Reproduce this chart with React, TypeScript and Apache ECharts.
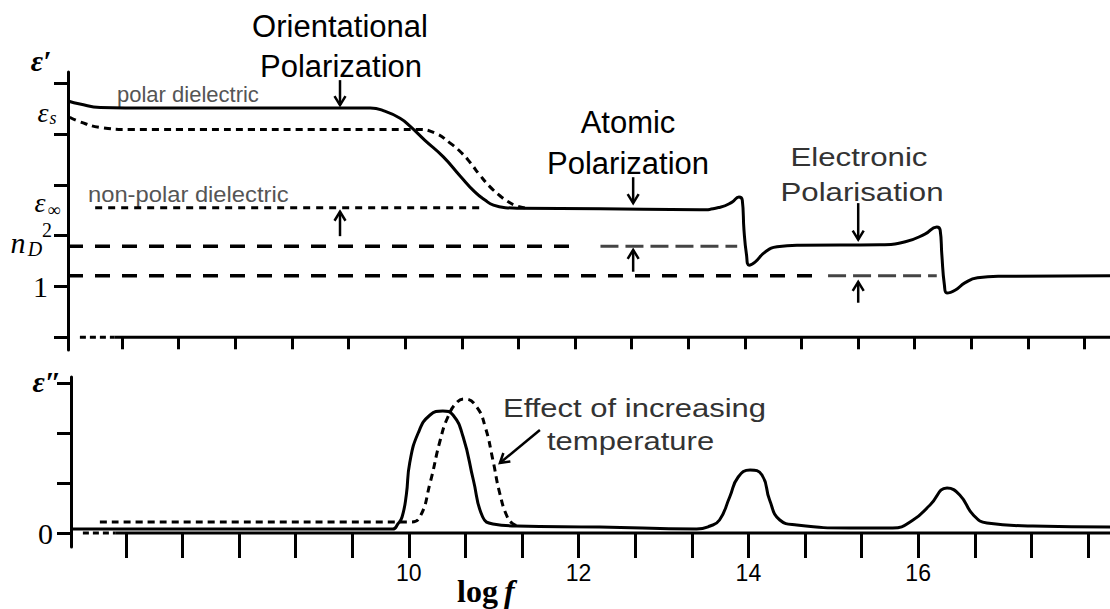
import React, { useEffect, useRef } from "react";
import * as echarts from "echarts";

// ---------- axis ticks / labels ----------
const X_TICKS = [6.667, 7.333, 8, 8.667, 9.333, 10, 10.667, 11.333, 12, 12.667, 13.333, 14, 14.667, 15.333, 16, 16.667, 17.333, 18];
const X_LABELS = [10, 12, 14, 16];
const EPS1_TICKS = [0, 1, 2, 3, 4, 5];
const EPS1_LABELS = [1];
const EPS2_TICKS = [0, 1, 2, 3];
const EPS2_LABELS = [0];

// ---------- top panel: real permittivity ε' ----------
const POLAR_F = [6.03, 6.17, 6.41, 7.0, 8.17, 9.59, 9.76, 9.94, 10.06, 10.23, 10.45, 10.65, 10.82, 10.94, 11.04, 11.18, 11.35, 12.3, 13.47, 13.71, 13.85, 13.93, 13.97, 13.99, 14.02, 14.05, 14.12, 14.24, 14.38, 14.65, 15.59, 15.89, 16.12, 16.26, 16.3, 16.32, 16.35, 16.38, 16.48, 16.59, 16.74, 17.01, 18.3];
const POLAR_E1 = [4.65, 4.59, 4.52, 4.51, 4.51, 4.51, 4.45, 4.31, 4.15, 3.88, 3.55, 3.17, 2.86, 2.70, 2.60, 2.55, 2.54, 2.53, 2.51, 2.56, 2.66, 2.76, 2.70, 2.11, 1.62, 1.42, 1.48, 1.68, 1.78, 1.81, 1.82, 1.88, 2.03, 2.17, 2.11, 1.62, 1.03, 0.87, 0.93, 1.07, 1.17, 1.20, 1.21];

const POLAR_HOT_F = [6.05, 6.17, 6.41, 6.76, 10.14, 10.35, 10.53, 10.67, 10.77, 10.88, 11.0, 11.12, 11.2, 11.32, 11.45];
const POLAR_HOT_E1 = [4.33, 4.24, 4.13, 4.09, 4.09, 4.02, 3.82, 3.62, 3.43, 3.19, 2.96, 2.78, 2.68, 2.58, 2.54];

const NONPOLAR_F = [6.35, 10.91];
const NONPOLAR_LEVEL = 2.55;
const ND2_F = [6.03, 12.06];
const ND2_EXT_F = [12.3, 13.91];
const ND2_LEVEL = 1.79;
const ONE_F = [6.03, 14.92];
const ONE_EXT_F = [14.98, 16.26];
const ONE_LEVEL = 1.21;

// ---------- bottom panel: loss ε'' ----------
const LOSS_F = [6.02, 9.81, 9.87, 9.92, 9.97, 10.01, 10.11, 10.25, 10.4, 10.52, 10.64, 10.76, 10.87, 10.99, 11.27, 12.25, 13.39, 13.55, 13.66, 13.78, 13.88, 14.02, 14.16, 14.25, 14.37, 14.57, 15.2, 15.7, 15.94, 16.14, 16.34, 16.49, 16.65, 16.81, 17.35, 18.26];
const LOSS_E2 = [0.08, 0.08, 0.18, 0.32, 0.76, 1.4, 2.0, 2.36, 2.44, 2.36, 1.92, 1.06, 0.32, 0.18, 0.14, 0.12, 0.08, 0.14, 0.26, 0.72, 1.12, 1.26, 1.16, 0.66, 0.26, 0.16, 0.1, 0.1, 0.26, 0.56, 0.9, 0.76, 0.36, 0.2, 0.14, 0.12];

const LOSS_HOT_F = [6.36, 10.01, 10.13, 10.25, 10.37, 10.46, 10.57, 10.66, 10.8, 10.9, 10.99, 11.07, 11.16, 11.23, 11.31];
const LOSS_HOT_E2 = [0.22, 0.22, 0.32, 1.0, 1.86, 2.32, 2.62, 2.68, 2.52, 2.12, 1.46, 0.8, 0.32, 0.18, 0.14];

// axis baselines (drawn as series so they can start with a dotted stub)
const AXIS_TOP_DOT_F = [6.17, 6.58];
const AXIS_TOP_F = [6.58, 18.3];
const AXIS_BOT_DOT_F = [6.16, 6.54];
const AXIS_BOT_F = [6.54, 18.26];

export default function App() {
  const ref = useRef<HTMLDivElement>(null);

  useEffect(() => {
    const chart = echarts.init(ref.current!, null, { renderer: "svg" });
    const black = "#000";
    const gray = "#555";
    const zip = (xs: number[], ys: number[]) => xs.map((x, i) => [x, ys[i]]);
    const flat = (xs: number[], v: number) => xs.map((x) => [x, v]);

    const ln = (name: string, idx: number, data: number[][], o: any = {}) => ({
      type: "line",
      name,
      xAxisIndex: idx,
      yAxisIndex: idx,
      data,
      symbol: "none",
      silent: true,
      smooth: o.smooth ?? false,
      lineStyle: { color: o.color ?? black, width: o.width ?? 3, type: o.dash ?? "solid", cap: "butt", join: "round" },
      z: o.z ?? 3,
    });

    const serifLabel = { fontFamily: "Liberation Serif", fontSize: 30, color: black };

    const xAxis = (idx: number, min: number, max: number, tickLen: number, withLabels: boolean) => ({
      type: "value",
      gridIndex: idx,
      min,
      max,
      axisLine: { show: true, onZero: true, lineStyle: { opacity: 0 } },
      axisTick: { show: true, customValues: X_TICKS, length: tickLen, inside: false, lineStyle: { color: black, width: 3 } },
      axisLabel: withLabels
        ? {
            show: true,
            customValues: X_LABELS,
            formatter: (v: number) => String(Math.round(v)),
            fontFamily: "Liberation Sans",
            fontSize: 23,
            color: black,
            margin: 14,
          }
        : { show: false },
      splitLine: { show: false },
    });

    const yAxis = (idx: number, min: number, max: number, ticks: number[], labels: number[], margin: number) => ({
      type: "value",
      gridIndex: idx,
      min,
      max,
      axisLine: { show: true, onZero: false, lineStyle: { color: black, width: 3 } },
      axisTick: { show: true, customValues: ticks, length: 14, inside: false, lineStyle: { color: black, width: 3 } },
      axisLabel: { show: true, customValues: labels, formatter: (v: number) => String(Math.round(v)), margin, ...serifLabel },
      splitLine: { show: false },
    });

    chart.setOption({
      animation: false,
      backgroundColor: "#fff",
      grid: [
        { left: 68, top: 72, width: 1042, height: 278 },
        { left: 71, top: 377, width: 1039, height: 170 },
      ],
      xAxis: [xAxis(0, 6.03, 18.3, 12, false), xAxis(1, 6.02, 18.26, 25, true)],
      yAxis: [yAxis(0, -0.25, 5.22, EPS1_TICKS, EPS1_LABELS, 20), yAxis(1, -0.28, 3.12, EPS2_TICKS, EPS2_LABELS, 18)],
      series: [
        // top panel
        ln("axis-top-stub", 0, flat(AXIS_TOP_DOT_F, 0), { dash: [6, 4], z: 2 }),
        ln("axis-top", 0, flat(AXIS_TOP_F, 0), { z: 2 }),
        ln("non-polar dielectric", 0, flat(NONPOLAR_F, NONPOLAR_LEVEL), { dash: [7, 6] }),
        ln("nD2", 0, flat(ND2_F, ND2_LEVEL), { dash: [15, 12], width: 3.5 }),
        ln("nD2-ext", 0, flat(ND2_EXT_F, ND2_LEVEL), { dash: [18, 7], width: 3, color: "#444" }),
        ln("one", 0, flat(ONE_F, ONE_LEVEL), { dash: [15, 12], width: 3.5 }),
        ln("one-ext", 0, flat(ONE_EXT_F, ONE_LEVEL), { dash: [18, 7], width: 3, color: "#444" }),
        ln("polar dielectric (higher T)", 0, zip(POLAR_HOT_F, POLAR_HOT_E1), { dash: [7, 5], smooth: 0.5, z: 4 }),
        ln("polar dielectric", 0, zip(POLAR_F, POLAR_E1), { smooth: 0.5, z: 5 }),
        // bottom panel
        ln("axis-bot-stub", 1, flat(AXIS_BOT_DOT_F, 0), { dash: [6, 4], z: 2 }),
        ln("axis-bot", 1, flat(AXIS_BOT_F, 0), { z: 2 }),
        ln("loss (higher T)", 1, zip(LOSS_HOT_F, LOSS_HOT_E2), { dash: [7, 5], smooth: 0.5, z: 4 }),
        ln("loss", 1, zip(LOSS_F, LOSS_E2), { smooth: 0.5, z: 5 }),
      ],
    });

    // ---------- annotations ----------
    const px = (g: number, x: number, y: number) => chart.convertToPixel({ gridIndex: g } as any, [x, y]) as number[];
    const arrow = (g: number, x1: number, y1: number, x2: number, y2: number) => {
      const a = px(g, x1, y1);
      const b = px(g, x2, y2);
      const dx = b[0] - a[0];
      const dy = b[1] - a[1];
      const L = Math.hypot(dx, dy) || 1;
      const ux = dx / L, uy = dy / L;
      const nx = -uy, ny = ux;
      const hl = 9, hw = 5.5;
      return [
        { type: "line", silent: true, shape: { x1: a[0], y1: a[1], x2: b[0], y2: b[1] }, style: { stroke: black, lineWidth: 2.5 } },
        {
          type: "polyline",
          silent: true,
          shape: {
            points: [
              [b[0] - ux * hl + nx * hw, b[1] - uy * hl + ny * hw],
              [b[0], b[1]],
              [b[0] - ux * hl - nx * hw, b[1] - uy * hl - ny * hw],
            ],
          },
          style: { stroke: black, lineWidth: 2.5, fill: null },
        },
      ];
    };

    const txt = (text: string, x: number, y: number, o: any = {}) => ({
      type: "text",
      silent: true,
      x,
      y,
      scaleX: o.scaleX ?? 1,
      style: {
        x: 0,
        y: 0,
        text,
        fill: o.fill ?? black,
        fontSize: o.size ?? 31,
        fontFamily: o.family ?? "Liberation Sans",
        fontStyle: o.style ?? "normal",
        fontWeight: o.weight ?? "normal",
        align: o.align ?? "center",
        verticalAlign: "middle",
      },
    });

    const serif = "Liberation Serif";
    const elements: any[] = [
      ...arrow(0, 9.233, 5.06, 9.233, 4.57),
      ...arrow(0, 9.233, 1.99, 9.233, 2.47),
      ...arrow(0, 12.685, 3.15, 12.685, 2.64),
      ...arrow(0, 12.685, 1.29, 12.685, 1.72),
      ...arrow(0, 15.335, 2.64, 15.335, 1.92),
      ...arrow(0, 15.335, 0.68, 15.335, 1.09),
      ...arrow(1, 11.544, 2.06, 11.073, 1.4),

      txt("Orientational", 340, 26),
      txt("Polarization", 341, 66),
      txt("Atomic", 628, 122),
      txt("Polarization", 628, 163),
      txt("Electronic", 859, 157, { size: 26, scaleX: 1.2, fill: "#333" }),
      txt("Polarisation", 862, 192, { size: 26, scaleX: 1.2, fill: "#333" }),
      txt("polar dielectric", 117, 94, { size: 22, align: "left", fill: gray }),
      txt("non-polar dielectric", 88, 194, { size: 22, scaleX: 1.08, align: "left", fill: gray }),
      txt("Effect of increasing", 503, 409, { size: 25, scaleX: 1.24, align: "left", fill: "#333" }),
      txt("temperature", 547, 442, { size: 25, scaleX: 1.24, align: "left", fill: "#333" }),

      txt("ε′", 41, 60, { size: 30, family: serif, style: "italic", weight: "bold" }),
      txt("ε″", 47, 381, { size: 30, family: serif, style: "italic", weight: "bold" }),
      txt("ε", 43, 112, { size: 28, family: serif, style: "italic" }),
      txt("s", 53, 118, { size: 18, family: serif, style: "italic" }),
      txt("ε", 40, 202, { size: 28, family: serif, style: "italic" }),
      txt("∞", 54, 210, { size: 18, family: serif }),
      txt("n", 18, 242, { size: 30, family: serif, style: "italic" }),
      txt("D", 35, 249, { size: 20, family: serif, style: "italic" }),
      txt("2", 47, 230, { size: 20, family: serif }),
      txt("log", 457, 591, { size: 32, family: serif, weight: "bold", align: "left" }),
      txt("f", 504, 591, { size: 32, family: serif, weight: "bold", style: "italic", align: "left" }),
    ];

    chart.setOption({ graphic: { elements } });

    return () => chart.dispose();
  }, []);

  return <div ref={ref} style={{ position: "absolute", left: 0, top: 0, width: 1110, height: 609 }} />;
}
